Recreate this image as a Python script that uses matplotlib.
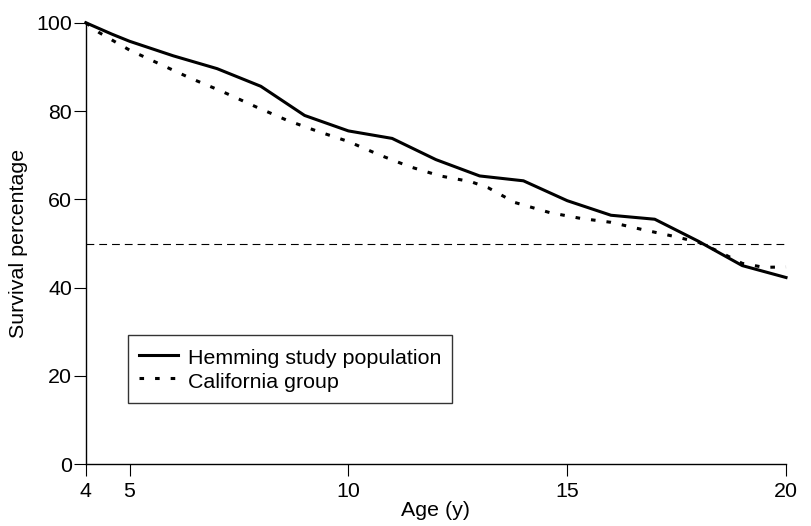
import numpy as np
import matplotlib
matplotlib.use("Agg")
import matplotlib.pyplot as plt

plt.rcParams["font.family"] = ["Liberation Sans", "DejaVu Sans"]
plt.rcParams["font.size"] = 15.4

# Survival curves
age_hemming = [4, 4.6, 5, 6, 7, 8, 9, 10, 11, 12, 13, 14, 15, 16, 17, 18, 19, 20]
surv_hemming = [100, 97.4, 95.8, 92.5, 89.6, 85.6, 79.0, 75.5, 73.8, 69.0,
                65.3, 64.2, 59.7, 56.4, 55.5, 50.5, 45.0, 42.3]

age_california = [4, 4.3, 4.7, 5, 5.7, 6.4, 7.1, 7.9, 8.6, 9.3, 10, 10.7, 11.4,
                  12.1, 12.8, 13.2, 13.8, 14.6, 15.3, 16, 16.7, 17.4, 18, 18.5,
                  19, 19.5, 20]
surv_california = [100, 97.8, 95.5, 93.8, 90.6, 87.4, 84.5, 80.9, 77.9, 75.4,
                   73.1, 70.1, 67.4, 65.3, 64.0, 62.6, 59.3, 57.0, 55.7, 54.8,
                   53.2, 51.7, 50.3, 48.0, 45.5, 44.6, 44.7]

median_line = 50

fig = plt.figure(figsize=(8.11, 5.26), dpi=100)
ax = fig.add_axes([0.1058, 0.1173, 0.8634, 0.8395])

ax.plot(age_hemming, surv_hemming, color="black", lw=2.2,
        label="Hemming study population", clip_on=False, zorder=3)
ax.plot(age_california, surv_california, color="black", lw=2.2,
        linestyle=(0, (1.5, 3.6)), label="California group", clip_on=False, zorder=3)
ax.axhline(median_line, color="black", lw=0.8, linestyle=(0, (7, 4.5)))

ax.set_xlim(4, 20)
ax.set_ylim(0, 100)
ax.set_xticks([4, 5, 10, 15, 20])
ax.set_yticks([0, 20, 40, 60, 80, 100])

ax.spines["right"].set_visible(False)
ax.spines["top"].set_visible(False)
ax.spines["left"].set_linewidth(1.0)
ax.spines["bottom"].set_linewidth(1.0)
ax.tick_params(direction="out", length=8.4, width=0.8, color="black")
ax.tick_params(axis="y", pad=1.5)
ax.tick_params(axis="x", pad=4)

ax.set_xlabel("Age (y)", labelpad=0)
ax.set_ylabel("Survival percentage", labelpad=6)

leg = ax.legend(loc="lower left", bbox_to_anchor=(0.06, 0.139), borderaxespad=0,
                fancybox=False, edgecolor="black", handlelength=1.83,
                handleheight=1.3, handletextpad=0.5, labelspacing=0.0,
                borderpad=0.5)
leg.get_frame().set_linewidth(1.0)

fig.savefig("out.png", dpi=100)
